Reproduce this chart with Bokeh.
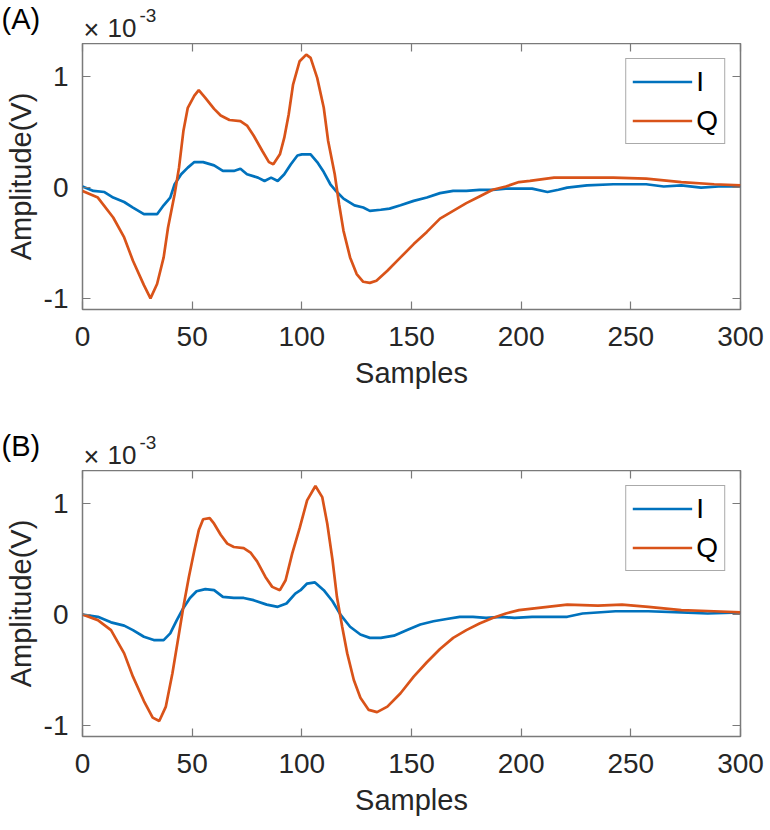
from bokeh.plotting import figure
from bokeh.models import LinearAxis, Range1d, Legend, LegendItem, FixedTicker
from bokeh.layouts import column
from bokeh.core.properties import value
from bokeh.embed import file_html
from bokeh.resources import INLINE

# ---------------- data (amplitude in units of 1e-3 V) ----------------
# Panel (A)
a_i_x = [0, 5, 10, 14, 19, 23, 28, 31, 34, 37, 40, 42, 45, 48, 51, 55, 60, 64, 69, 72, 75, 80, 83, 86,
         89, 92, 95, 98, 100, 104, 107, 110, 113, 116, 119, 124, 128, 131, 136, 140, 145, 151, 157, 163,
         169, 175, 181, 187, 193, 199, 205, 212, 217, 221, 230, 242, 257, 265, 273, 282, 290, 300]
a_i_y = [0.01, -0.03, -0.04, -0.09, -0.13, -0.18, -0.24, -0.24, -0.24, -0.16, -0.09, 0.03, 0.12, 0.18,
         0.23, 0.23, 0.20, 0.15, 0.15, 0.17, 0.12, 0.09, 0.06, 0.09, 0.06, 0.12, 0.21, 0.29, 0.30, 0.30,
         0.23, 0.14, 0.03, -0.04, -0.10, -0.16, -0.18, -0.21, -0.20, -0.19, -0.16, -0.12, -0.09, -0.05,
         -0.03, -0.03, -0.02, -0.02, -0.01, -0.01, -0.01, -0.04, -0.02, 0.0, 0.02, 0.03, 0.03, 0.01, 0.02,
         0.0, 0.01, 0.01]
a_q_x = [0, 7, 14, 19, 23, 28, 31, 34, 37, 39, 42, 44, 46, 48, 51, 53, 56, 60, 63, 67, 72, 75, 78, 82,
         85, 87, 90, 92, 94, 96, 99, 102, 104, 107, 110, 112, 115, 117, 119, 122, 125, 128, 131, 134, 139,
         145, 151, 157, 163, 169, 175, 181, 187, 193, 199, 204, 215, 227, 242, 257, 273, 288, 300]
a_q_y = [-0.03, -0.09, -0.27, -0.45, -0.66, -0.88, -1.0, -0.87, -0.63, -0.36, -0.06, 0.18, 0.51, 0.72,
         0.83, 0.88, 0.81, 0.71, 0.65, 0.61, 0.60, 0.56, 0.47, 0.33, 0.23, 0.21, 0.30, 0.45, 0.66, 0.93,
         1.14, 1.20, 1.17, 0.99, 0.72, 0.42, 0.12, -0.15, -0.39, -0.63, -0.78, -0.85, -0.86, -0.84, -0.75,
         -0.63, -0.51, -0.40, -0.28, -0.21, -0.14, -0.08, -0.02, 0.01, 0.05, 0.06, 0.09, 0.09, 0.09, 0.08,
         0.05, 0.03, 0.02]

# Panel (B)
b_i_x = [0, 7, 13, 19, 23, 28, 32.5, 37, 40, 43, 46, 49, 52, 56, 60, 64, 69, 73.5, 78, 84, 89, 93, 97,
         99.4, 102.4, 106, 110, 114, 117.6, 122, 126.7, 131, 136, 142, 148, 154, 160, 166, 172, 178, 184,
         191, 197, 205, 212, 221, 228, 243, 258, 273, 285, 300]
b_i_y = [0.0, -0.02, -0.07, -0.10, -0.14, -0.20, -0.23, -0.23, -0.17, -0.05, 0.06, 0.15, 0.21, 0.23,
         0.22, 0.16, 0.15, 0.15, 0.13, 0.09, 0.07, 0.10, 0.19, 0.22, 0.28, 0.29, 0.22, 0.12, 0.0, -0.11,
         -0.18, -0.21, -0.21, -0.19, -0.14, -0.09, -0.06, -0.04, -0.02, -0.02, -0.03, -0.02, -0.03, -0.02,
         -0.02, -0.02, 0.01, 0.03, 0.03, 0.02, 0.01, 0.02]
b_q_x = [0, 7, 13, 19, 23, 28, 32, 35, 38, 41, 44, 46, 48.5, 51, 53, 55, 58, 60, 63, 66, 69, 73.5, 76.6,
         79.6, 83.4, 86.5, 90, 92.6, 95.6, 99, 102.4, 106.2, 109.3, 111.6, 114, 116, 118.4, 120.7, 123.7,
         126.7, 130.5, 134.3, 139, 145, 151, 157, 163, 169, 175, 181, 187, 193, 199, 212, 221, 235, 246,
         258, 273, 288, 300]
b_q_y = [0.0, -0.05, -0.14, -0.35, -0.56, -0.78, -0.93, -0.96, -0.83, -0.53, -0.17, 0.07, 0.34, 0.58,
         0.76, 0.86, 0.87, 0.82, 0.72, 0.64, 0.61, 0.60, 0.56, 0.48, 0.34, 0.25, 0.22, 0.31, 0.55, 0.78,
         1.03, 1.16, 1.06, 0.82, 0.49, 0.16, -0.11, -0.35, -0.59, -0.75, -0.86, -0.88, -0.83, -0.71, -0.56,
         -0.43, -0.31, -0.21, -0.14, -0.08, -0.03, 0.01, 0.04, 0.07, 0.09, 0.08, 0.09, 0.07, 0.04, 0.03, 0.02]

x_ticks = [0, 50, 100, 150, 200, 250, 300]
y_ticks = [-1, 0, 1]
y_tick_labels = {-1: "-1", 0: "0", 1: "1"}
series_names = ["I", "Q"]
panel_tags = ["(A)", "(B)"]
scale_base = "10"
scale_exp = "-3"

# ---------------- style ----------------
COL_I = "#0072BD"
COL_Q = "#D95319"
FONT = "Liberation Sans"
TXT = "#262626"
FRAME = "#7a7a7a"
W = 770


def style_axis(ax, labels=True):
    ax.major_tick_in = 8
    ax.major_tick_out = 0
    ax.minor_tick_line_color = None
    ax.axis_line_color = None
    ax.major_tick_line_color = FRAME
    ax.major_tick_line_width = 1.2
    if labels:
        ax.major_label_text_font = FONT
        ax.major_label_text_font_size = "28px"
        ax.major_label_text_color = TXT
        ax.axis_label_text_font = FONT
        ax.axis_label_text_font_size = "29px"
        ax.axis_label_text_font_style = "normal"
        ax.axis_label_text_color = TXT
    else:
        # mirror axis: inward ticks only, labels not drawn
        ax.major_label_text_font_size = "0px"
        ax.major_label_text_color = None
        ax.major_label_standoff = 0


def make_header(tag, height, page_top, frame_top):
    h = figure(width=W, height=height, x_range=Range1d(0, W), y_range=Range1d(height, 0),
               output_backend="svg", toolbar_location=None, min_border=0, title=None,
               x_axis_type=None, y_axis_type=None, outline_line_color=None, frame_align=False)
    h.grid.visible = False

    def yloc(px_above_frame):
        return frame_top - px_above_frame - page_top

    # vertical centres of the texts, in pixels above the plot frame
    h.text(x=[1], y=[yloc(25)], text=[tag], text_font=value(FONT), text_font_size=value("29px"),
           text_baseline="middle", text_align="left", text_color="black")
    h.text(x=[83], y=[yloc(14)], text=["×"], text_font=value(FONT), text_font_size=value("27px"),
           text_baseline="middle", text_align="left", text_color=TXT)
    h.text(x=[107], y=[yloc(15.5)], text=[scale_base], text_font=value(FONT), text_font_size=value("26px"),
           text_baseline="middle", text_align="left", text_color=TXT)
    h.text(x=[139], y=[yloc(28)], text=[scale_exp], text_font=value(FONT), text_font_size=value("19px"),
           text_baseline="middle", text_align="left", text_color=TXT)
    return h


def make_panel(ix, iy, qx, qy, height, bottom):
    p = figure(width=W, height=height, x_range=Range1d(0, 300), y_range=Range1d(-1.1, 1.3),
               output_backend="svg", toolbar_location=None, title=None, frame_align=False,
               min_border_left=82, min_border_right=30, min_border_top=0, min_border_bottom=bottom,
               x_axis_label="Samples", y_axis_label="Amplitude(V)")
    p.grid.visible = False
    p.outline_line_color = FRAME
    p.outline_line_width = 1.5

    p.xaxis.ticker = FixedTicker(ticks=x_ticks)
    p.yaxis.ticker = FixedTicker(ticks=y_ticks)
    p.yaxis.major_label_overrides = y_tick_labels
    for ax in p.xaxis + p.yaxis:
        style_axis(ax)
    p.xaxis.major_label_standoff = 17
    p.xaxis.axis_label_standoff = 8
    p.yaxis.major_label_standoff = 14
    p.yaxis.axis_label_standoff = 4

    top_ax = LinearAxis(ticker=FixedTicker(ticks=x_ticks))
    style_axis(top_ax, labels=False)
    p.add_layout(top_ax, "above")
    right_ax = LinearAxis(ticker=FixedTicker(ticks=y_ticks))
    style_axis(right_ax, labels=False)
    p.add_layout(right_ax, "right")

    r_i = p.line(ix, iy, color=COL_I, line_width=2.7)
    r_q = p.line(qx, qy, color=COL_Q, line_width=2.7)

    legend = Legend(items=[LegendItem(label=series_names[0], renderers=[r_i]),
                           LegendItem(label=series_names[1], renderers=[r_q])],
                    location="top_right")
    legend.margin = 15
    legend.padding = 6
    legend.spacing = 6
    legend.glyph_width = 60
    legend.glyph_height = 33
    legend.label_height = 33
    legend.label_standoff = 4
    legend.label_text_font = FONT
    legend.label_text_font_size = "28px"
    legend.label_text_color = "black"
    legend.border_line_color = "#555555"
    legend.border_line_width = 1.5
    legend.background_fill_color = "white"
    legend.background_fill_alpha = 1.0
    p.add_layout(legend)
    return p


# page rows: header A 0-43, panel A 43-418 (frame 43-309), header B 418-470, panel B 470-828 (frame 470-736)
ha = make_header(panel_tags[0], 43, 0, 43)
pa = make_panel(a_i_x, a_i_y, a_q_x, a_q_y, height=375, bottom=109)
hb = make_header(panel_tags[1], 52, 418, 470)
pb = make_panel(b_i_x, b_i_y, b_q_x, b_q_y, height=358, bottom=92)

layout = column(ha, pa, hb, pb)
open("out.html", "w").write(file_html(layout, INLINE))
